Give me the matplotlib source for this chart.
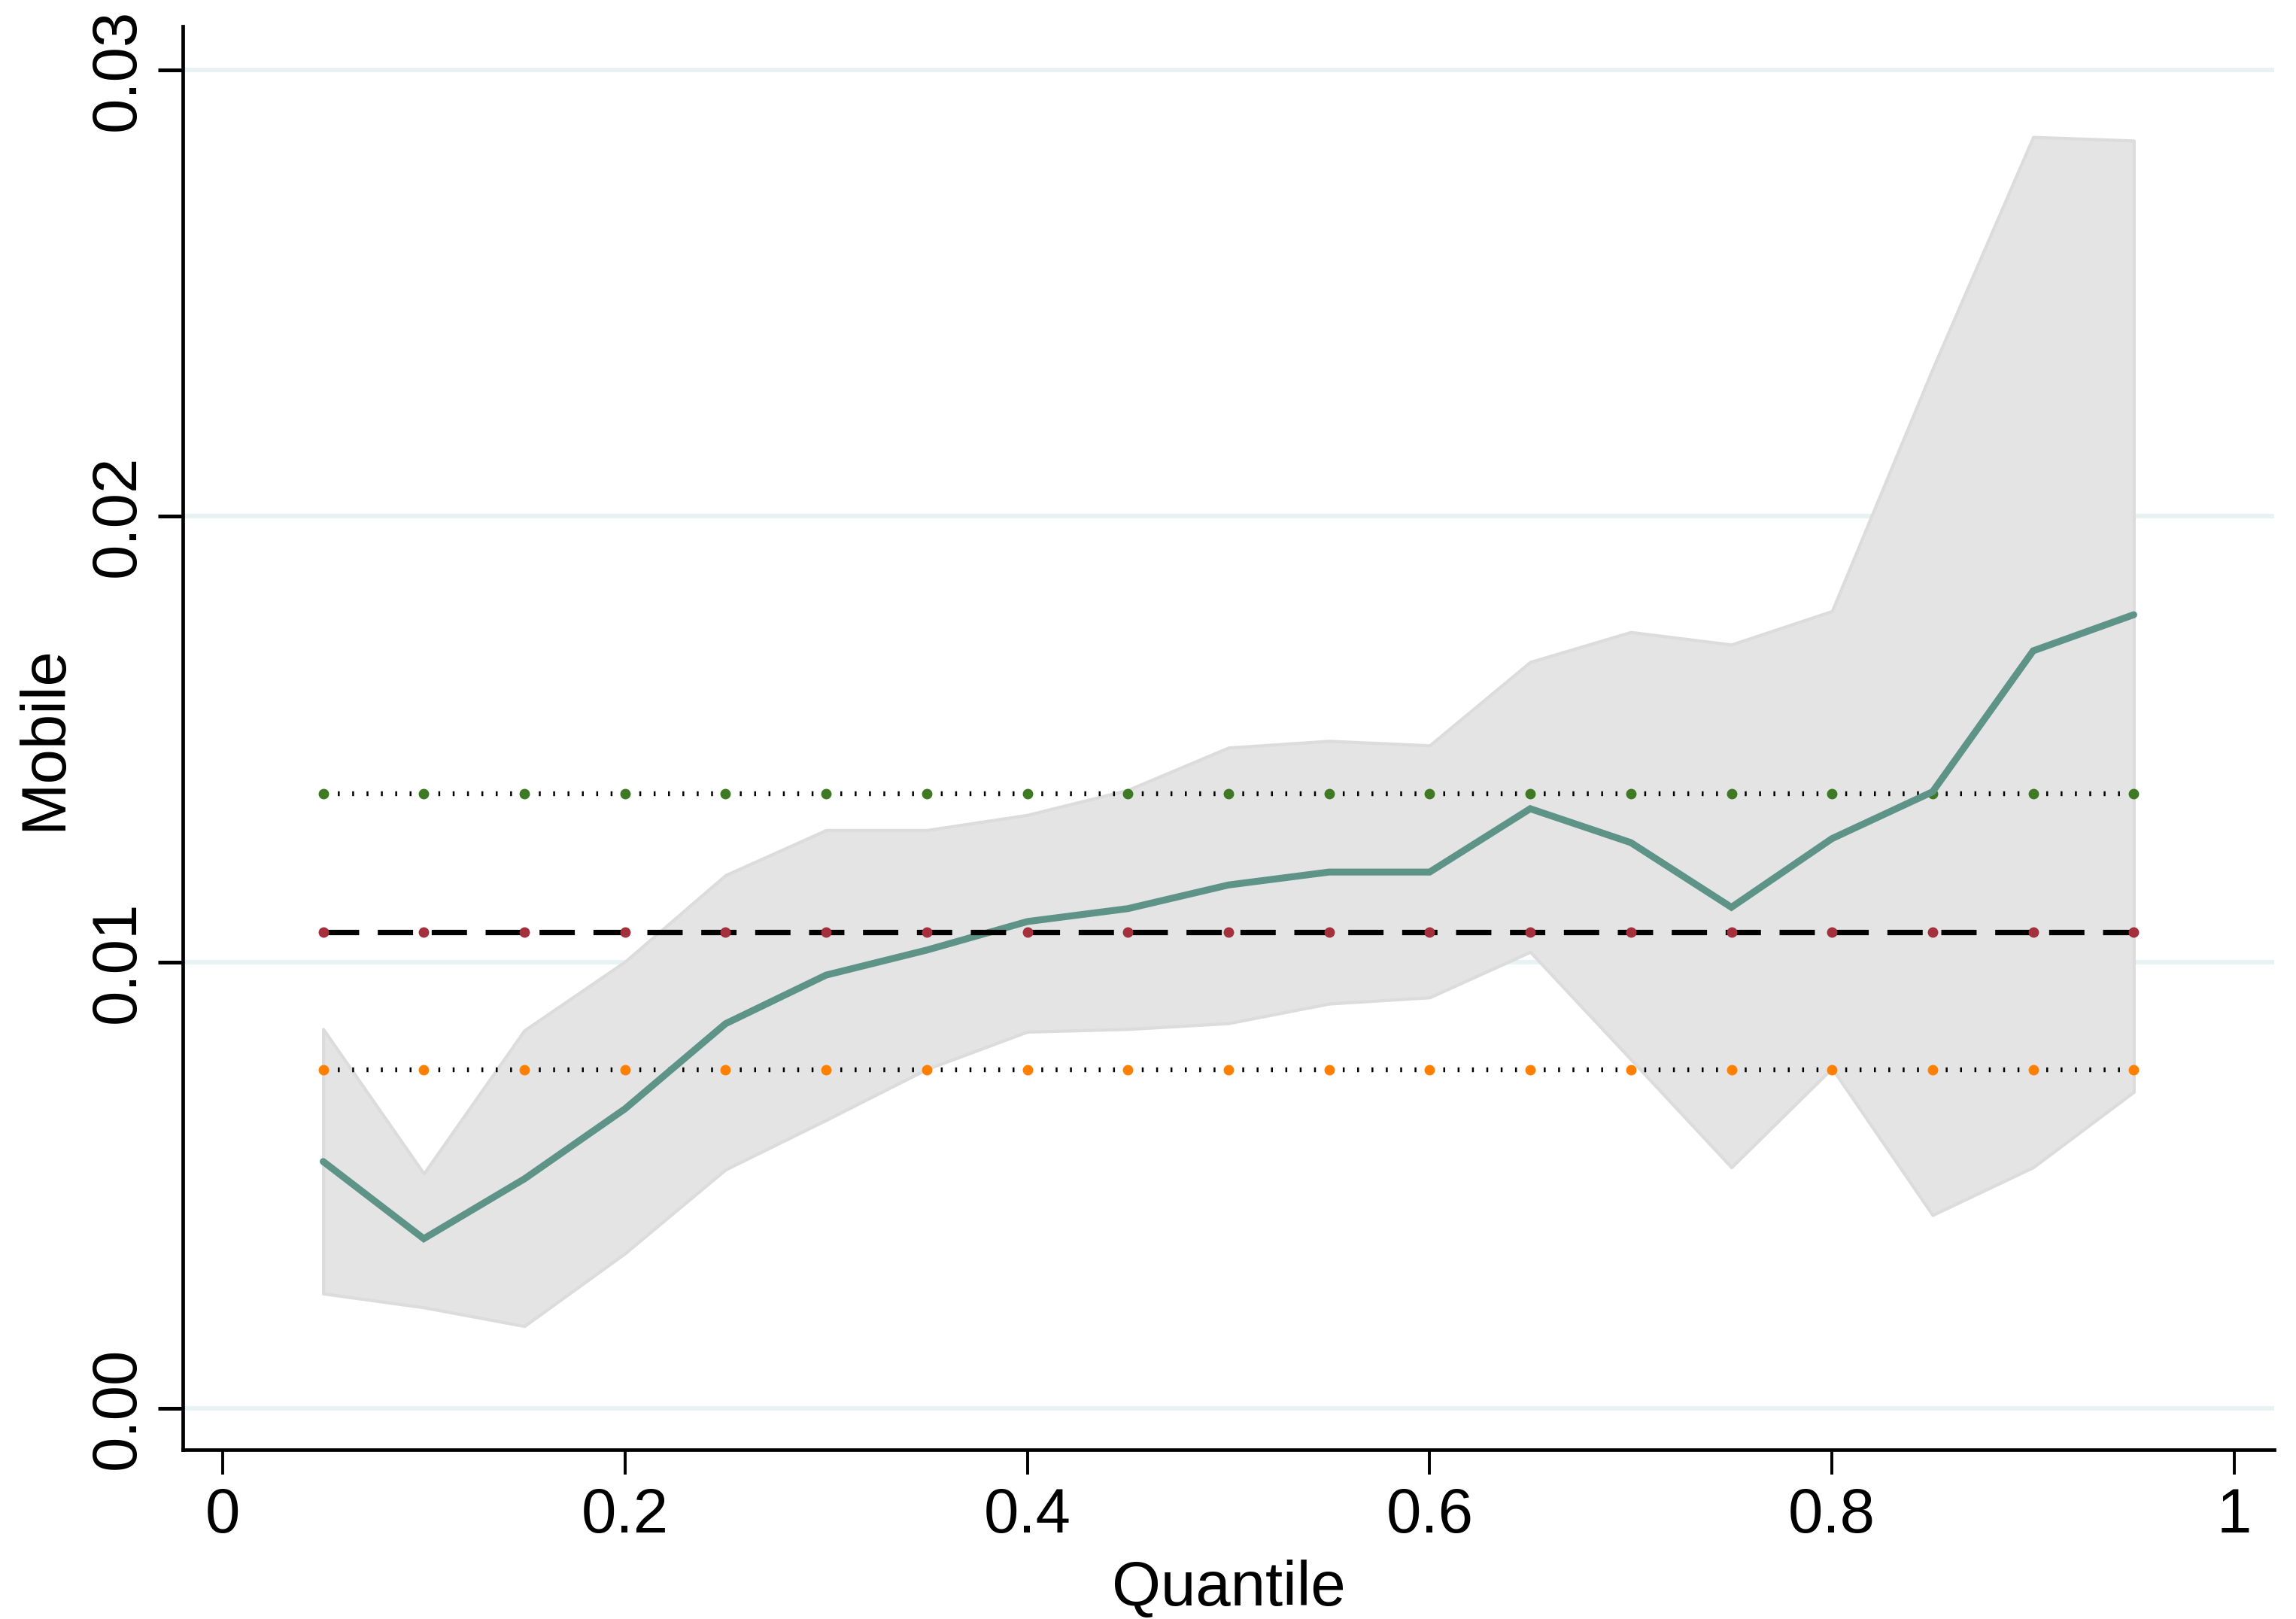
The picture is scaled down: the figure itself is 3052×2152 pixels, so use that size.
import matplotlib
matplotlib.use("Agg")
import matplotlib.pyplot as plt

# quantile regression estimates
quantiles = [0.05, 0.10, 0.15, 0.20, 0.25, 0.30, 0.35, 0.40, 0.45, 0.50,
             0.55, 0.60, 0.65, 0.70, 0.75, 0.80, 0.85, 0.90, 0.95]
coef = [0.00553, 0.00380, 0.00514, 0.00671, 0.00862, 0.00971, 0.01027, 0.01091, 0.01120, 0.01173,
        0.01202, 0.01202, 0.01344, 0.01268, 0.01123, 0.01277, 0.01382, 0.01698, 0.01779]
ci_low = [0.00257, 0.00226, 0.00184, 0.00347, 0.00535, 0.00646, 0.00760, 0.00844, 0.00850, 0.00863,
          0.00907, 0.00921, 0.01023, 0.00782, 0.00540, 0.00762, 0.00433, 0.00540, 0.00709]
ci_high = [0.00850, 0.00526, 0.00847, 0.01001, 0.01195, 0.01296, 0.01296, 0.01330, 0.01386, 0.01481,
           0.01496, 0.01486, 0.01673, 0.01740, 0.01712, 0.01787, 0.02330, 0.02850, 0.02842]
ols_high = 0.01378
ols_coef = 0.01068
ols_low = 0.00759

xticks = [0, 0.2, 0.4, 0.6, 0.8, 1]
xtick_labels = ["0", "0.2", "0.4", "0.6", "0.8", "1"]
yticks = [0.00, 0.01, 0.02, 0.03]
ytick_labels = ["0.00", "0.01", "0.02", "0.03"]

plt.rcParams["font.family"] = ["Liberation Sans", "DejaVu Sans"]
plt.rcParams["lines.scale_dashes"] = False

fig = plt.figure(figsize=(15.26, 10.76), dpi=200)
ax = fig.add_axes([0.0796, 0.1046, 0.9109, 0.8791])

ax.set_xlim(-0.0198, 1.0198)
ax.set_ylim(-0.00093, 0.03098)

for y in yticks:
    ax.axhline(y, color="#e8f2f2", lw=2.2, zorder=0)

ax.fill_between(quantiles, ci_low, ci_high, facecolor="#e4e4e4",
                edgecolor="#dcdcdc", lw=1.5, zorder=1)

n = len(quantiles)
ax.plot(quantiles, [ols_high] * n, color="black", lw=2.3, dashes=(0.9, 5.97),
        dash_capstyle="butt", marker="o", ms=4, mfc="#3e7a24", mec="#3e7a24", zorder=2)
ax.plot(quantiles, [ols_low] * n, color="black", lw=2.3, dashes=(0.9, 5.97),
        dash_capstyle="butt", marker="o", ms=4, mfc="#ff8000", mec="#ff8000", zorder=2)
ax.plot(quantiles, coef, color="#5e9387", lw=3.3, solid_capstyle="round",
        solid_joinstyle="miter", zorder=3)
ax.plot(quantiles, [ols_coef] * n, color="black", lw=2.6, dashes=(16.9, 8.9),
        dash_capstyle="butt", zorder=4)
ax.plot(quantiles, [ols_coef] * n, ls="none", marker="o", ms=4,
        mfc="#a3303b", mec="#a3303b", zorder=5)

for side in ["top", "right"]:
    ax.spines[side].set_visible(False)
for side in ["left", "bottom"]:
    ax.spines[side].set_linewidth(1.7)

ax.set_xticks(xticks)
ax.set_xticklabels(xtick_labels, fontsize=30)
ax.set_yticks(yticks)
ax.set_yticklabels(ytick_labels, fontsize=30, rotation=90, va="center")
ax.tick_params(axis="x", direction="out", length=11.9, width=1.4, pad=5.8)
ax.tick_params(axis="y", direction="out", length=11.9, width=1.8, pad=5)

ax.set_xlabel("Quantile", fontsize=30)
ax.set_ylabel("Mobile", fontsize=30)
ax.xaxis.set_label_coords(0.5, -0.077)
ax.yaxis.set_label_coords(-0.052, 0.5)

fig.savefig("out.png", dpi=200)
